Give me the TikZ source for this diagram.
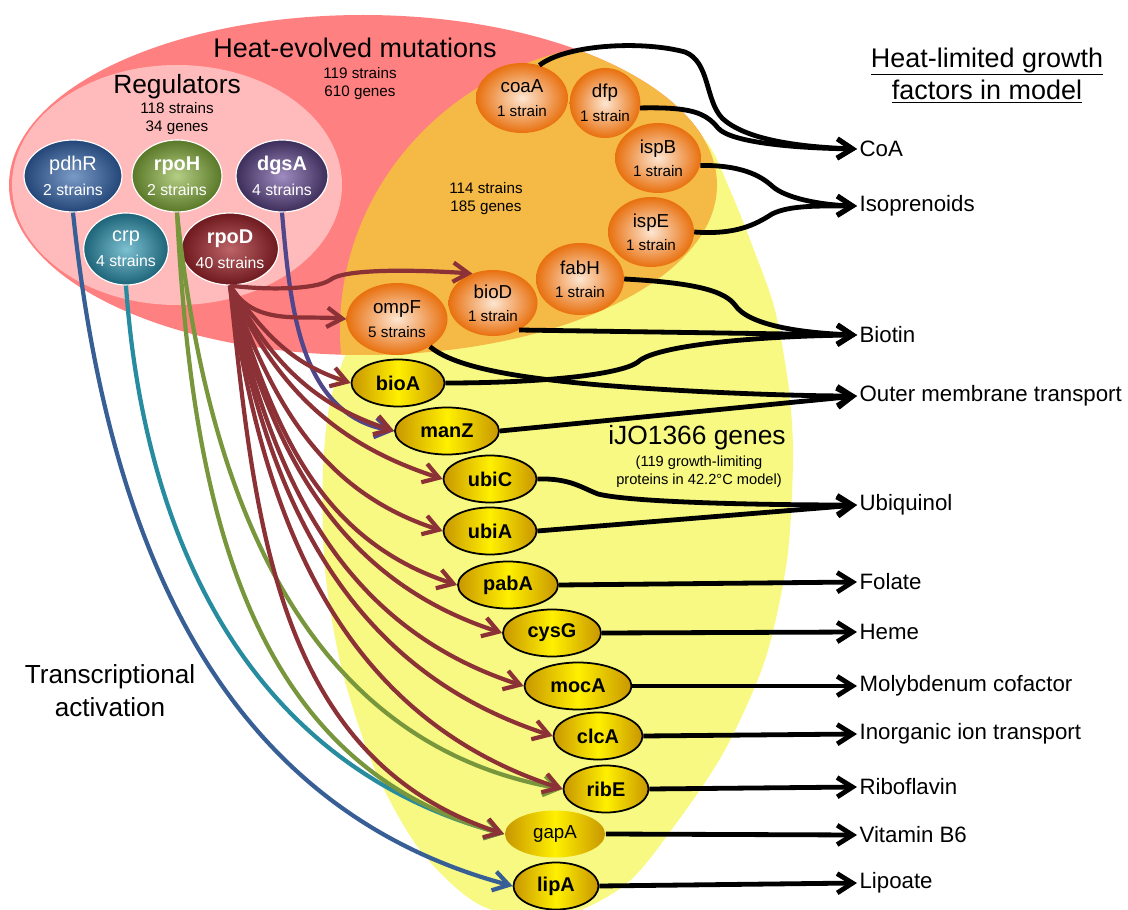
\documentclass[tikz,border=0pt]{standalone}
\usepackage{fontspec}
\setmainfont{Liberation Sans}
\usetikzlibrary{shapes.geometric,arrows.meta,positioning}

\definecolor{heatred}{HTML}{FF8080}
\definecolor{regpink}{HTML}{FFBBBB}
\definecolor{mutorange}{HTML}{F5B945}
\definecolor{modelyellow}{HTML}{F7F982}
\definecolor{mutlight}{HTML}{FDE6D2}
\definecolor{mutdark}{HTML}{E8700E}
\definecolor{genegold}{HTML}{C89600}
\definecolor{geneyellow}{HTML}{FFF000}
\definecolor{pdhRdark}{HTML}{234678}
\definecolor{pdhRlight}{HTML}{7A9AC6}
\definecolor{rpoHdark}{HTML}{5A7828}
\definecolor{rpoHlight}{HTML}{B4CE84}
\definecolor{dgsAdark}{HTML}{3C2D5A}
\definecolor{dgsAlight}{HTML}{A08CC0}
\definecolor{crpdark}{HTML}{1E6478}
\definecolor{crplight}{HTML}{7CC0D2}
\definecolor{rpoDdark}{HTML}{6E191E}
\definecolor{rpoDlight}{HTML}{BC6468}
\definecolor{pdhRline}{HTML}{375F96}
\definecolor{crpline}{HTML}{288CA0}
\definecolor{rpoHline}{HTML}{78963C}
\definecolor{dgsAline}{HTML}{50468C}
\definecolor{rpoDline}{HTML}{8C3237}

\tikzset{
  regnode/.style={ellipse, draw=white, line width=1pt, inner sep=0pt, align=center, text=white, minimum height=21.6mm, font=\fontsize{13.5}{21}\selectfont},
  mutnode/.style={ellipse, inner sep=0pt, align=center, inner color=mutlight, outer color=mutdark, minimum height=21mm, font=\fontsize{13}{20}\selectfont},
  genenode/.style={ellipse, draw=black, line width=1.5pt, inner sep=0pt, left color=genegold, right color=genegold, middle color=geneyellow, minimum height=14.1mm, font=\bfseries\fontsize{17}{20}\selectfont},
  factor/.style={anchor=west, inner sep=2pt, font=\fontsize{19}{22}\selectfont},
  link/.style={->, line width=4.1pt},
  act/.style={->, line width=3.6pt, draw=#1},
}

\begin{document}
\begin{tikzpicture}[x=0.3mm, y=-0.3mm, >={Straight Barb[length=4.6mm,width=5.8mm]}]
\useasboundingbox (0,0) rectangle (1128,910);
% gene sets
\fill[heatred] (363,185) ellipse (354 and 170);
\fill[regpink] (177,185) ellipse (165 and 120);
\fill[modelyellow] plot[smooth cycle] coordinates {(560,100) (650,95) (705,140) (730,190) (752,245) (775,310) (789,390) (793,460) (787,560) (765,660) (725,750) (675,825) (625,885) (555,918) (480,905) (420,850) (375,770) (342,670) (325,570) (323,470) (333,390) (370,300) (430,200) (490,130)};
\begin{scope}
  \clip (363,185) ellipse (354 and 170);
  \fill[mutorange] (640,330) ellipse (300 and 288);
\end{scope}

% set labels
\node[font=\fontsize{23}{27}\selectfont] (heattitle) at (355,48) {Heat-evolved mutations};
\node[align=center, font=\fontsize{13}{15.4}\selectfont] (heatcount) at (360,84) {119 strains\\610 genes};
\node[font=\fontsize{22.5}{27}\selectfont] (regtitle) at (177,87) {Regulators};
\node[align=center, font=\fontsize{13}{15.4}\selectfont] (regcount) at (177,119) {118 strains\\34 genes};
\node[align=center, font=\fontsize{13}{15.4}\selectfont] (mutcount) at (486,199) {114 strains\\185 genes};
\node[font=\fontsize{22.5}{27}\selectfont] (modeltitle) at (697,438) {iJO1366 genes};
\node[align=center, font=\fontsize{12.5}{15.4}\selectfont] (modelnote) at (699,472) {(119 growth-limiting\\proteins in 42.2°C model)};
\node[align=center, font=\fontsize{23}{28}\selectfont] (factortitle) at (987,75) {\underline{Heat-limited growth}\\\underline{factors in model}};
\node[align=center, font=\fontsize{22.3}{28}\selectfont] (activation) at (110,691) {Transcriptional\\activation};

% regulators
\node[regnode, minimum width=29.4mm, inner color=pdhRlight, outer color=pdhRdark] (pdhR) at (73,176) {{\fontsize{17}{21}\selectfont pdhR}\\2 strains};
\node[regnode, minimum width=27mm, inner color=rpoHlight, outer color=rpoHdark] (rpoH) at (177,176) {{\fontsize{17}{21}\selectfont\bfseries rpoH}\\2 strains};
\node[regnode, minimum width=27.6mm, inner color=dgsAlight, outer color=dgsAdark] (dgsA) at (282,176) {{\fontsize{17}{21}\selectfont\bfseries dgsA}\\4 strains};
\node[regnode, minimum width=21mm, inner color=crplight, outer color=crpdark] (crp) at (126,249) {{\fontsize{17}{21}\selectfont crp}\\4 strains};
\node[regnode, minimum width=27.6mm, inner color=rpoDlight, outer color=rpoDdark] (rpoD) at (230,249) {{\fontsize{17}{21}\selectfont\bfseries rpoD}\\40 strains};

% mutated model genes
\node[mutnode, minimum width=27.6mm] (coaA) at (522,98) {{\fontsize{16}{20}\selectfont coaA}\\1 strain};
\node[mutnode, minimum width=21mm] (dfp) at (605,103) {{\fontsize{16}{20}\selectfont dfp}\\1 strain};
\node[mutnode, minimum width=25.8mm] (ispB) at (658,158) {{\fontsize{16}{20}\selectfont ispB}\\1 strain};
\node[mutnode, minimum width=25.8mm] (ispE) at (651,232) {{\fontsize{16}{20}\selectfont ispE}\\1 strain};
\node[mutnode, minimum width=26.4mm, minimum height=21.6mm] (fabH) at (580,279) {{\fontsize{16}{20}\selectfont fabH}\\1 strain};
\node[mutnode, minimum width=26.7mm, minimum height=19.8mm] (bioD) at (493,303) {{\fontsize{16}{20}\selectfont bioD}\\1 strain};
\node[mutnode, minimum width=30.3mm, minimum height=21.6mm] (ompF) at (397,319) {{\fontsize{16}{20}\selectfont ompF}\\5 strains};

% regulated model genes
\node[genenode, minimum width=27.9mm] (bioA) at (398,383) {bioA};
\node[genenode, minimum width=31.2mm] (manZ) at (447,431) {manZ};
\node[genenode, minimum width=27.9mm] (ubiC) at (490,479) {ubiC};
\node[genenode, minimum width=27.9mm] (ubiA) at (490,531) {ubiA};
\node[genenode, minimum width=30mm] (pabA) at (508,585) {pabA};
\node[genenode, minimum width=29.4mm] (cysG) at (552,633) {cysG};
\node[genenode, minimum width=32.1mm] (mocA) at (578,686) {mocA};
\node[genenode, minimum width=26.7mm] (clcA) at (598,736) {clcA};
\node[genenode, minimum width=25.5mm] (ribE) at (606,789) {ribE};
\node[genenode, draw=none, minimum width=30mm, font=\fontsize{16}{20}\selectfont] (gapA) at (555,834) {gapA};
\node[genenode, minimum width=25.5mm] (lipA) at (556,886) {lipA};

% growth factors
\node[factor] (CoA) at (857,149) {CoA};
\node[factor] (Isoprenoids) at (857,206) {Isoprenoids};
\node[factor] (Biotin) at (857,335) {Biotin};
\node[factor] (Outer) at (857,396) {Outer membrane transport};
\node[factor] (Ubiquinol) at (857,505) {Ubiquinol};
\node[factor] (Folate) at (857,582) {Folate};
\node[factor] (Heme) at (857,632) {Heme};
\node[factor] (Molybdenum) at (857,686) {Molybdenum cofactor};
\node[factor] (Inorganic) at (857,734) {Inorganic ion transport};
\node[factor] (Riboflavin) at (857,787) {Riboflavin};
\node[factor] (VitaminB6) at (857,835) {Vitamin B6};
\node[factor] (Lipoate) at (857,883) {Lipoate};

% transcriptional activation
\draw[act=pdhRline] (pdhR.south) to[out=-84,in=165] (lipA.west);
\draw[act=crpline] (crp.south) to[out=-86,in=165] (gapA.west);
\draw[act=rpoHline] (rpoH.south) to[out=-84,in=170] (ribE.west);
\draw[act=rpoHline] (rpoH.south) to[out=-87,in=165] (gapA.west);
\draw[act=dgsAline] (dgsA.south) to[out=-85,in=170] (manZ.west);
\draw[act=rpoDline] (rpoD.south) .. controls (265,290) and (315,290) .. (330,280) .. controls (345,268) and (420,270) .. (bioD.125);
\draw[act=rpoDline] (rpoD.south) to[out=-60,in=175] (ompF.west);
\foreach \g/\o in {bioA/-55,manZ/-62,ubiC/-66,ubiA/-70,pabA/-73,cysG/-76,mocA/-78,clcA/-80,ribE/-82,gapA/-84}
  \draw[act=rpoDline] (rpoD.south) to[out=\o,in=162] (\g.west);

% links to growth factors
\draw[link] (coaA.62) .. controls (565,45) and (640,40) .. (685,52) .. controls (710,62) and (705,100) .. (722,118) .. controls (745,140) and (800,147) .. (CoA.west);
\draw[link] (dfp.-8) .. controls (690,107) and (705,112) .. (718,128) .. controls (730,142) and (790,148) .. (CoA.west);
\draw[link] (ispB.-10) .. controls (740,165) and (760,175) .. (772,186) .. controls (785,198) and (820,205) .. (Isoprenoids.west);
\draw[link] (ispE.east) .. controls (735,235) and (755,225) .. (772,214) .. controls (790,205) and (820,206) .. (Isoprenoids.west);
\draw[link] (fabH.east) .. controls (700,283) and (725,292) .. (735,305) .. controls (748,325) and (800,333) .. (Biotin.west);
\draw[link] (bioD.-46) -- (Biotin.west);
\draw[link] (bioA.east) .. controls (540,383) and (620,375) .. (638,362) .. controls (655,345) and (760,336) .. (Biotin.west);
\draw[link] (ompF.-40) .. controls (455,368) and (520,378) .. (600,385) .. controls (700,393) and (800,396) .. (Outer.west);
\draw[link] (manZ.east) -- (Outer.west);
\draw[link] (ubiC.east) .. controls (570,478) and (582,488) .. (598,494) .. controls (630,502) and (750,505) .. (Ubiquinol.west);
\draw[link] (ubiA.east) -- (Ubiquinol.west);
\draw[link] (pabA.east) -- (Folate.west);
\draw[link] (cysG.east) -- (Heme.west);
\draw[link] (mocA.east) -- (Molybdenum.west);
\draw[link] (clcA.east) -- (Inorganic.west);
\draw[link] (ribE.east) -- (Riboflavin.west);
\draw[link] (gapA.east) -- (VitaminB6.west);
\draw[link] (lipA.east) -- (Lipoate.west);
\end{tikzpicture}
\end{document}
